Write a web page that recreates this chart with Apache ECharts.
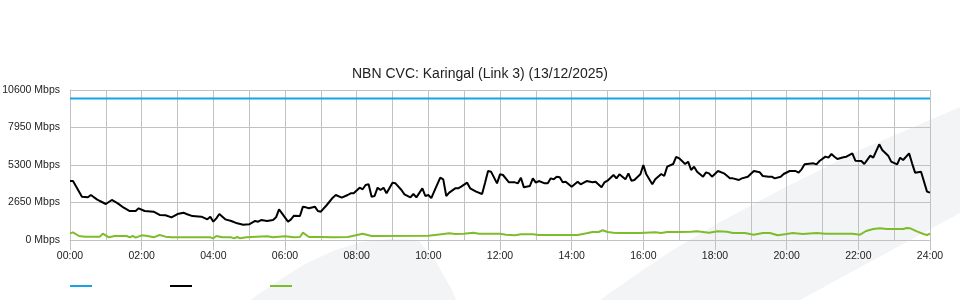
<!DOCTYPE html>
<html>
<head>
<meta charset="utf-8">
<script src="https://cdn.jsdelivr.net/npm/echarts@6/dist/echarts.min.js"></script>
<style>html,body{margin:0;padding:0;background:#fff}#c{width:960px;height:300px}</style>
</head>
<body>
<div id="c"></div>
<script>
// ---- data (minutes since midnight, Mbps) ----
const titleText = 'NBN CVC: Karingal (Link 3) (13/12/2025)';
const seriesNames = ['Capacity', 'Download', 'Upload'];
const yTicks = [0, 2650, 5300, 7950, 10600];
const xTickMinutes = [0, 120, 240, 360, 480, 600, 720, 840, 960, 1080, 1200, 1320, 1440];

const capacityTimes = [0, 1440];
const capacityValues = [10000, 10000];

const downTimes = [0,5,20,30,35,45,50,60,70,80,90,100,110,115,125,140,150,160,170,180,190,195,205,220,230,235,240,245,250,260,270,280,290,300,310,315,320,330,340,345,350,355,365,370,375,385,390,395,400,410,415,420,430,440,445,455,465,470,475,485,490,495,500,505,510,515,520,525,530,540,545,555,560,570,575,580,590,595,600,605,610,620,625,630,635,645,650,655,665,670,680,690,695,700,705,715,720,725,735,745,750,755,760,770,775,780,785,795,800,805,810,815,820,825,830,840,850,855,865,875,880,890,895,900,910,915,920,930,935,940,945,955,960,965,975,980,990,995,1000,1010,1015,1020,1030,1035,1040,1045,1050,1060,1065,1070,1075,1085,1095,1105,1110,1120,1125,1135,1145,1155,1160,1170,1175,1180,1190,1195,1205,1215,1220,1225,1230,1245,1250,1255,1265,1270,1275,1280,1285,1295,1300,1310,1315,1325,1330,1340,1345,1355,1360,1370,1375,1385,1390,1395,1405,1410,1415,1425,1435,1440];
const downValues = [4170,4170,3060,3017,3180,2875,2756,2544,2827,2590,2283,2049,2049,2240,2049,2000,1767,1744,1602,1837,1931,1837,1690,1649,1460,1649,1295,1531,1837,1460,1343,1177,1083,1107,1343,1295,1413,1343,1413,1602,2167,1884,1295,1460,1720,1696,2355,2308,2240,2355,2049,2000,2473,2990,3180,2990,3180,3298,3298,3696,3583,3887,3934,3060,3109,3696,3533,3696,3298,4051,4004,3533,3227,3015,3251,3015,3651,3109,3180,2960,3450,4404,4287,3109,3345,3651,3651,3769,4051,3651,3416,3251,4051,4876,4829,4004,4640,4593,4075,4075,4004,4404,3722,3816,4357,4051,4169,4004,4004,4357,4287,4475,4428,4075,4122,3769,4122,3934,4169,4075,4122,3722,4075,4193,4593,4357,4640,4287,4711,4193,4240,4640,5300,4640,3934,4287,4664,4523,5182,5371,5880,5771,5371,5535,4947,5182,4829,4475,4782,4711,4475,4876,4711,4357,4357,4240,4357,4475,4876,4782,4523,4475,4475,4357,4475,4664,4876,4876,4758,4993,5347,5418,5347,5583,5889,5818,6077,5889,5724,5842,5889,6124,5606,5583,5371,5960,5818,6760,6360,5960,5535,5347,5818,5653,6124,5418,4758,4829,3416,3345];

const upTimes = [0,5,15,25,50,55,65,75,95,100,105,110,120,130,140,150,160,170,235,240,245,255,270,275,280,285,295,330,340,360,375,385,390,400,420,440,465,475,490,505,600,615,635,645,660,675,685,720,730,745,755,775,785,850,865,875,885,892,900,910,920,955,980,990,1000,1020,1040,1050,1070,1085,1100,1110,1130,1145,1160,1172,1185,1200,1210,1227,1250,1265,1310,1323,1333,1345,1356,1368,1395,1401,1407,1418,1429,1435,1440];
const upValues = [470,540,283,236,236,447,188,283,283,188,283,165,330,283,188,353,236,188,188,118,283,188,188,118,212,118,188,260,188,260,188,212,518,212,212,188,212,306,447,283,306,377,471,424,447,518,447,447,377,330,400,400,353,353,471,565,565,690,565,518,494,494,541,494,565,565,589,612,518,612,589,494,494,377,494,494,330,424,494,424,494,447,447,377,636,777,824,777,777,848,824,612,424,353,447];

function pairs(t, v) { return t.map((x, i) => [x, v[i]]); }
function hhmm(m) {
  const h = Math.floor(m / 60), mm = m % 60;
  return String(h).padStart(2, '0') + ':' + String(mm).padStart(2, '0');
}

const chart = echarts.init(document.getElementById('c'), null, { renderer: 'canvas' });
const gridColor = '#c2c2c2';
const font = "'Liberation Sans', Arial, Helvetica, sans-serif";

chart.setOption({
  animation: false,
  backgroundColor: '#ffffff',
  textStyle: { fontFamily: font },
  title: {
    text: titleText,
    left: 'center',
    top: 62,
    textStyle: { fontSize: 14, fontWeight: 'normal', color: '#222', fontFamily: font }
  },
  graphic: [
    {
      type: 'polygon', z: -100, silent: true,
      shape: { points: [[250,300],[275,283],[305,264],[335,250],[362,242],[390,239],[418,240],[436,262],[452,290],[456,300]] },
      style: { fill: '#f3f4f6' }
    },
    {
      type: 'polygon', z: -100, silent: true,
      shape: { points: [[600,300],[640,272],[673,250],[720,222],[780,190],[860,150],[960,107],[960,213],[800,300]] },
      style: { fill: '#f3f4f6' }
    }
  ],
  legend: {
    left: 65,
    top: 280,
    itemWidth: 22,
    itemHeight: 2,
    itemGap: 78,
    icon: 'rect',
    formatter: function () { return ''; },
    data: seriesNames,
    selectedMode: false
  },
  grid: { left: 70, right: 30, top: 90, bottom: 60, containLabel: false, outerBoundsMode: 'none' },
  xAxis: {
    type: 'value',
    min: 0, max: 1440, interval: 120,
    axisLine: { show: true, lineStyle: { color: gridColor, width: 1 } },
    axisTick: { show: true, length: 10, lineStyle: { color: gridColor } },
    axisLabel: {
      margin: 11, fontSize: 10.5, color: '#222', fontFamily: font,
      customValues: xTickMinutes,
      formatter: function (v) { return hhmm(v); }
    },
    splitLine: { show: true, lineStyle: { color: gridColor, width: 1 } },
    minorTick: { show: false, splitNumber: 2 },
    minorSplitLine: { show: true, lineStyle: { color: gridColor, width: 1 } }
  },
  yAxis: {
    type: 'value',
    min: 0, max: 10600, interval: 2650,
    axisLine: { show: true, lineStyle: { color: gridColor } },
    axisTick: { show: false },
    axisLabel: {
      margin: 10, fontSize: 10.5, color: '#222', fontFamily: font,
      padding: [0, 0, 4, 0],
      formatter: function (v) { return v + ' Mbps'; }
    },
    splitLine: { show: true, lineStyle: { color: gridColor, width: 1 } }
  },
  series: [
    {
      name: seriesNames[0], type: 'line', data: pairs(capacityTimes, capacityValues),
      showSymbol: false, lineStyle: { color: '#18a3e6', width: 2 }, itemStyle: { color: '#18a3e6' }, z: 3
    },
    {
      name: seriesNames[1], type: 'line', data: pairs(downTimes, downValues),
      showSymbol: false, lineStyle: { color: '#000000', width: 2 }, itemStyle: { color: '#000000' }, z: 4
    },
    {
      name: seriesNames[2], type: 'line', data: pairs(upTimes, upValues),
      showSymbol: false, lineStyle: { color: '#7dbd2b', width: 2 }, itemStyle: { color: '#7dbd2b' }, z: 3
    }
  ]
});
</script>
</body>
</html>
